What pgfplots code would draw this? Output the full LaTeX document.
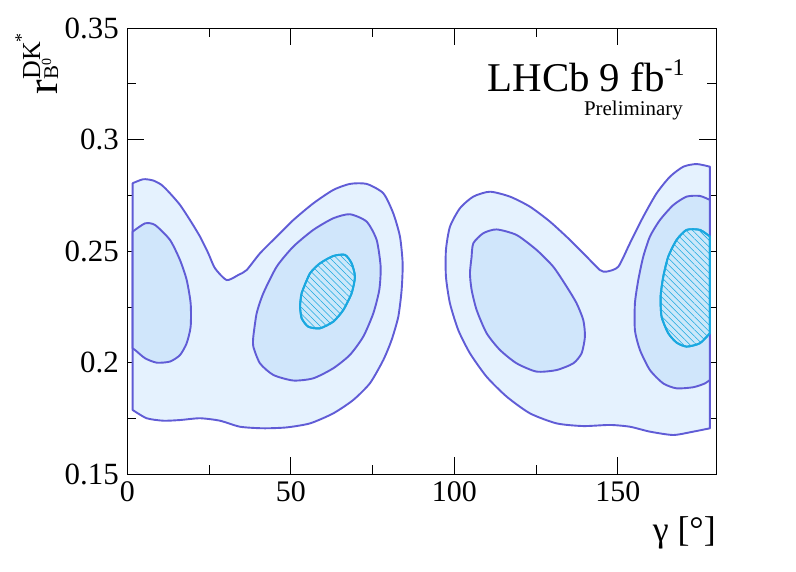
\documentclass[border=0pt]{standalone}
\usepackage{fontspec}
\setmainfont{Liberation Serif}
\usepackage{pgfplots}
\pgfplotsset{compat=1.18}
\usetikzlibrary{patterns.meta}
\definecolor{outerfill}{RGB}{229,242,254}
\definecolor{midfill}{RGB}{208,230,251}
\definecolor{innerfill}{RGB}{204,232,250}
\definecolor{cline}{RGB}{96,92,214}
\definecolor{cyanline}{RGB}{26,168,224}
\pgfplotsset{contour/.style={draw=cline, line width=1.9bp, line join=round, smooth, tension=0.4}}
\begin{document}
\begin{tikzpicture}
\path[use as bounding box] (-127.3bp,-97.5bp) rectangle (668.7bp,474.5bp);
\begin{axis}[
  scale only axis,
  width=588.7bp, height=446.4bp,
  xmin=0, xmax=180, ymin=0.15, ymax=0.35,
  xtick={0,50,100,150}, minor x tick num=1,
  ytick={0.15,0.2,0.25,0.3,0.35}, minor y tick num=1,
  tick align=inside, tick pos=both,
  major tick length=17bp, minor tick length=9bp,
  every tick/.style={black, line width=0.8bp},
  axis line style={black, line width=0.9bp},
  /pgf/number format/assume math mode=true,
  yticklabel style={/pgf/number format/fixed, /pgf/number format/precision=2, font=\fontsize{31}{36}\selectfont, xshift=-5bp},
  xticklabel style={font=\fontsize{30}{36}\selectfont, yshift=-4bp},
  xlabel={γ [°]},
  xlabel style={at={(axis description cs:1,-0.149)}, anchor=base east, inner sep=0pt, font=\fontsize{36}{40}\selectfont},
  ylabel={\fontsize{44}{44}\selectfont r\rlap{\raisebox{-1bp}{\fontsize{21}{21}\selectfont B\raisebox{7bp}{\fontsize{14}{14}\selectfont 0}}}\raisebox{17bp}{\fontsize{26}{26}\selectfont DK\raisebox{13bp}{\fontsize{18}{18}\selectfont *}}},
  ylabel style={at={(axis description cs:-0.1194,0.989)}, anchor=base east, inner sep=0pt},
  clip=true,
]
% outer regions
\addplot[contour, fill=outerfill] coordinates {
(1.64,0.2805) (4.90,0.2823) (7.96,0.2817) (10.51,0.2797) (13.05,0.2760) (16.11,0.2708) (19.17,0.2640) (22.23,0.2566) (24.77,0.2491) (26.81,0.2424) (30.38,0.2371) (33.95,0.2394) (36.49,0.2416) (40.57,0.2491) (45.67,0.2566) (50.76,0.2640) (56.88,0.2715) (62.99,0.2775) (68.08,0.2802) (73.18,0.2802) (78.28,0.2760) (81.33,0.2670) (83.37,0.2566) (84.19,0.2446) (83.88,0.2327) (82.86,0.2207) (80.82,0.2103) (78.28,0.2013) (74.20,0.1909) (69.10,0.1834) (62.99,0.1774) (55.86,0.1729) (48.72,0.1711) (41.59,0.1707) (34.46,0.1714) (28.34,0.1741) (22.23,0.1752) (16.11,0.1744) (11.02,0.1741) (5.92,0.1752) (1.64,0.1789)
} -- cycle;
\addplot[contour, fill=outerfill] coordinates {
(178.14,0.2879) (174.06,0.2891) (169.99,0.2879) (165.91,0.2834) (161.84,0.2760) (157.76,0.2655) (153.68,0.2536) (150.12,0.2431) (146.55,0.2409) (144.51,0.2416) (140.44,0.2476) (135.34,0.2551) (129.23,0.2633) (123.11,0.2700) (117.00,0.2745) (110.88,0.2767) (105.79,0.2745) (101.71,0.2693) (98.65,0.2610) (97.43,0.2506) (97.43,0.2386) (98.65,0.2267) (101.20,0.2147) (104.77,0.2043) (109.86,0.1938) (115.98,0.1849) (123.11,0.1774) (131.26,0.1729) (139.42,0.1717) (147.57,0.1722) (153.68,0.1714) (159.80,0.1692) (166.93,0.1677) (173.05,0.1692) (178.14,0.1707)
} -- cycle;
% middle regions
\addplot[contour, fill=midfill] coordinates {
(1.64,0.2588) (5.41,0.2625) (8.47,0.2618) (13.05,0.2551) (16.11,0.2461) (18.15,0.2372) (19.37,0.2267) (19.37,0.2162) (18.15,0.2088) (16.11,0.2035) (13.05,0.2006) (8.98,0.2001) (5.41,0.2021) (2.36,0.2058) (1.64,0.2065)
} -- cycle;
\addplot[contour, fill=midfill] coordinates {
(38.53,0.2118) (39.55,0.2222) (41.59,0.2312) (45.67,0.2431) (50.76,0.2521) (56.88,0.2596) (62.99,0.2648) (68.08,0.2666) (73.18,0.2633) (76.24,0.2551) (77.46,0.2431) (77.05,0.2327) (75.22,0.2222) (72.16,0.2118) (68.08,0.2036) (62.99,0.1976) (56.88,0.1931) (50.76,0.1921) (44.65,0.1946) (40.57,0.1998) (38.53,0.2073) (38.53,0.2118)
} -- cycle;
\addplot[contour, fill=midfill] coordinates {
(105.28,0.2476) (105.79,0.2536) (108.84,0.2581) (112.92,0.2598) (119.04,0.2573) (125.15,0.2506) (130.24,0.2431) (134.32,0.2342) (137.38,0.2267) (139.42,0.2192) (139.93,0.2118) (138.91,0.2043) (136.36,0.1998) (131.26,0.1968) (125.15,0.1961) (119.04,0.1998) (113.94,0.2058) (109.86,0.2133) (106.81,0.2237) (105.28,0.2327) (104.77,0.2401) (105.28,0.2476)
} -- cycle;
\addplot[contour, fill=midfill] coordinates {
(178.14,0.2730) (175.08,0.2748) (171.01,0.2745) (166.93,0.2707) (162.85,0.2640) (159.80,0.2566) (157.76,0.2476) (156.23,0.2371) (155.21,0.2267) (155.21,0.2147) (156.74,0.2058) (159.80,0.1968) (163.87,0.1908) (167.95,0.1886) (173.05,0.1891) (176.61,0.1908) (178.14,0.1924)
} -- cycle;
% inner regions
\addplot[contour, draw=cyanline, fill=innerfill,
  postaction={pattern={Lines[angle=-45,distance=4.6bp,line width=0.55bp]}, pattern color=cyanline}] coordinates {
(52.80,0.2252) (53.31,0.2312) (55.86,0.2401) (58.91,0.2446) (62.99,0.2479) (66.56,0.2484) (68.59,0.2446) (69.61,0.2386) (68.59,0.2312) (66.05,0.2237) (62.99,0.2185) (58.91,0.2155) (55.35,0.2162) (53.31,0.2200) (52.80,0.2252)
} -- cycle;
\addplot[contour, draw=cyanline, fill=innerfill,
  postaction={pattern={Lines[angle=-45,distance=4.6bp,line width=0.55bp]}, pattern color=cyanline}] coordinates {
(178.14,0.2566) (175.08,0.2596) (171.01,0.2596) (167.95,0.2551) (165.40,0.2476) (163.87,0.2386) (163.06,0.2297) (163.36,0.2207) (165.40,0.2133) (167.95,0.2091) (171.01,0.2073) (175.08,0.2088) (178.14,0.2133)
} -- cycle;
\node[anchor=base east, inner sep=0pt, font=\fontsize{41}{48}\selectfont] at (rel axis cs:0.947,0.8575) {LHCb 9 fb\raisebox{16bp}{\fontsize{24}{24}\selectfont -1}};
\node[anchor=base east, inner sep=0pt, font=\fontsize{21}{24}\selectfont] at (rel axis cs:0.944,0.804) {Preliminary};
\end{axis}
\end{tikzpicture}
\end{document}
